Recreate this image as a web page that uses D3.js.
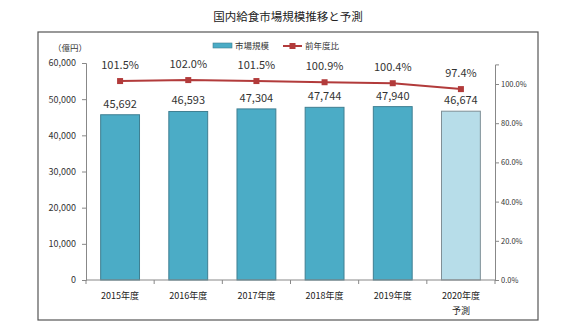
<!DOCTYPE html>
<html><head><meta charset="utf-8">
<script src="https://cdn.jsdelivr.net/npm/d3@7"></script>
<style>
body{margin:0;background:#fff;}
text{font-family:"Noto Sans CJK JP","Noto Sans",sans-serif;}
</style></head>
<body><svg id="c" width="573" height="322"></svg>
<script>
const categories = ["2015年度","2016年度","2017年度","2018年度","2019年度","2020年度"];
const subLabels = ["","","","","","予測"];
const marketSize = [45692,46593,47304,47744,47940,46674];
const yoyRatio = [101.5,102.0,101.5,100.9,100.4,97.4];
const leftTicks = [0,10000,20000,30000,40000,50000,60000];
const rightTicks = [0,20,40,60,80,100];
const forecastFlags = [false,false,false,false,false,true];

const svg = d3.select("#c");
svg.append("rect").attr("x",38).attr("y",32).attr("width",500).attr("height",288)
  .attr("fill","#fff").attr("stroke","#555").attr("stroke-width",1.2);

svg.append("text").attr("x",288).attr("y",21).attr("text-anchor","middle")
  .attr("font-size",11.5).attr("fill","#222").text("国内給食市場規模推移と予測");

const x = d3.scaleBand().domain(categories).range([86,495]).paddingInner(0.43).paddingOuter(0.215);
const y = d3.scaleLinear().domain([0,60000]).range([280,63]);
const y2 = d3.scaleLinear().domain([0,110]).range([280,64.4]);

// left axis
const la = svg.append("g").attr("transform","translate(86,0)")
  .call(d3.axisLeft(y).tickValues(leftTicks).tickSize(4).tickFormat(d3.format(",")));
la.selectAll("text").attr("font-size",9).attr("fill","#333").attr("x",-10);
la.selectAll("path,line").attr("stroke","#888");

// right axis
const ra = svg.append("g").attr("transform","translate(495,0)")
  .call(d3.axisRight(y2).tickValues(rightTicks).tickSize(4).tickFormat(d=>d.toFixed(1)+"%"));
ra.selectAll("text").attr("font-size",7.5).attr("fill","#333").attr("x",6);
ra.selectAll("path,line").attr("stroke","#888");

// bars
svg.append("g").selectAll("rect").data(categories).join("rect")
  .attr("x",d=>x(d)).attr("width",x.bandwidth())
  .attr("y",(d,i)=>y(marketSize[i])).attr("height",(d,i)=>280-y(marketSize[i]))
  .attr("fill",(d,i)=>forecastFlags[i]?"#b7dde9":"#4bacc6")
  .attr("stroke",(d,i)=>forecastFlags[i]?"#7f8f96":"#3f7f92").attr("stroke-width",1);

// x axis
const xa = svg.append("g").attr("transform","translate(0,280)");
xa.append("line").attr("x1",86).attr("x2",495).attr("stroke","#888");
const bounds = d3.range(categories.length+1).map(i=>86+i*(409/categories.length));
xa.selectAll("line.t").data(bounds).join("line").attr("class","t")
  .attr("x1",d=>d).attr("x2",d=>d).attr("y1",0).attr("y2",4).attr("stroke","#888");
xa.selectAll("text.c").data(categories).join("text").attr("class","c")
  .attr("x",d=>x(d)+x.bandwidth()/2).attr("y",19).attr("text-anchor","middle")
  .attr("font-size",9).attr("fill","#222").text(d=>d);
xa.selectAll("text.s").data(subLabels).join("text").attr("class","s")
  .attr("x",(d,i)=>x(categories[i])+x.bandwidth()/2).attr("y",34).attr("text-anchor","middle")
  .attr("font-size",9).attr("fill","#222").text(d=>d);

// bar labels
svg.append("g").selectAll("text").data(categories).join("text")
  .attr("x",d=>x(d)+x.bandwidth()/2).attr("y",(d,i)=>y(marketSize[i])-7)
  .attr("text-anchor","middle").attr("font-size",11).attr("fill","#333")
  .text((d,i)=>d3.format(",")(marketSize[i]));

// line
const line = d3.line().x((d,i)=>x(categories[i])+x.bandwidth()/2).y(d=>y2(d));
svg.append("path").datum(yoyRatio).attr("d",line).attr("fill","none")
  .attr("stroke","#b23b3b").attr("stroke-width",2);
svg.append("g").selectAll("rect").data(yoyRatio).join("rect")
  .attr("x",(d,i)=>x(categories[i])+x.bandwidth()/2-3).attr("y",d=>y2(d)-3)
  .attr("width",6).attr("height",6).attr("fill","#b23b3b");
svg.append("g").selectAll("text").data(yoyRatio).join("text")
  .attr("x",(d,i)=>x(categories[i])+x.bandwidth()/2).attr("y",d=>y2(d)-12.5)
  .attr("text-anchor","middle").attr("font-size",11).attr("fill","#333")
  .text(d=>d.toFixed(1)+"%");

// unit label
svg.append("text").attr("x",70).attr("y",51).attr("text-anchor","middle")
  .attr("font-size",8.5).attr("fill","#333").text("（億円）");

// legend
svg.append("rect").attr("x",213).attr("y",43).attr("width",19).attr("height",5).attr("fill","#4bacc6").attr("stroke","#3f7f92").attr("stroke-width",0.6);
svg.append("text").attr("x",235).attr("y",49).attr("font-size",8.5).attr("fill","#333").text("市場規模");
svg.append("line").attr("x1",283).attr("x2",302).attr("y1",46).attr("y2",46).attr("stroke","#b23b3b").attr("stroke-width",2);
svg.append("rect").attr("x",289.5).attr("y",43).attr("width",6).attr("height",6).attr("fill","#b23b3b");
svg.append("text").attr("x",305).attr("y",49).attr("font-size",8.5).attr("fill","#333").text("前年度比");
</script></body></html>
